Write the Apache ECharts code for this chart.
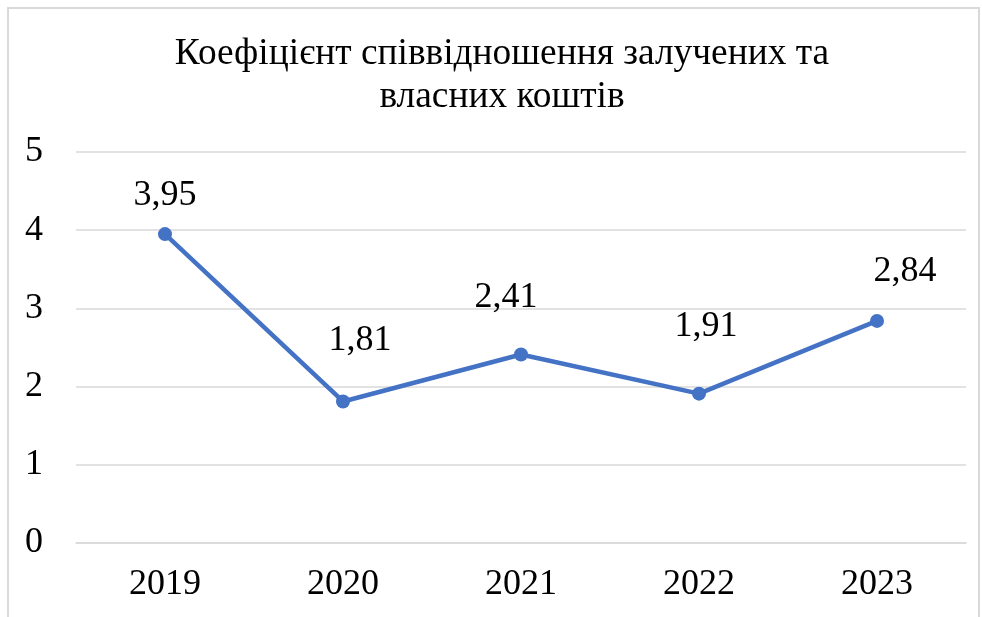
<!DOCTYPE html>
<html>
<head>
<meta charset="utf-8">
<script src="https://cdn.jsdelivr.net/npm/echarts@6/dist/echarts.min.js"></script>
<style>
  html, body { margin: 0; padding: 0; background: #fff; }
  #chart { width: 982px; height: 617px; }
</style>
</head>
<body>
<div id="chart"></div>
<script>
// Ratio of borrowed to own funds, by year
const years = ['2019', '2020', '2021', '2022', '2023'];
const ratio = [3.95, 1.81, 2.41, 1.91, 2.84];
const yTicks = [0, 1, 2, 3, 4, 5];

// Hand-placed value label nudges [dx, dy] relative to each point
const labelNudge = [[0, -39], [17, -61], [-15, -57], [7, -67], [28, -49]];

const FONT = '"Liberation Serif", "Times New Roman", serif';

const chart = echarts.init(document.getElementById('chart'));
chart.setOption({
  animation: false,
  backgroundColor: '#fff',
  title: {
    text: 'Коефіцієнт співвідношення залучених та\nвласних коштів',
    left: 502,
    top: 33,
    padding: 0,
    textAlign: 'center',
    textStyle: {
      fontFamily: FONT,
      fontWeight: 'normal',
      fontSize: 37.4,
      lineHeight: 43,
      color: '#000'
    }
  },
  graphic: [{
    type: 'rect',
    shape: { x: 8, y: 8, width: 971, height: 640 },
    style: { fill: 'none', stroke: '#d9d9d9', lineWidth: 2 },
    silent: true
  }],
  grid: { left: 76, right: 16, top: 152, bottom: 74 },
  xAxis: {
    type: 'category',
    data: years,
    boundaryGap: true,
    axisLine: { show: true, lineStyle: { color: '#d9d9d9', width: 1.5 } },
    axisTick: { show: false },
    axisLabel: {
      margin: 24,
      fontFamily: FONT,
      fontSize: 36,
      color: '#000'
    }
  },
  yAxis: {
    type: 'value',
    min: yTicks[0],
    max: yTicks[yTicks.length - 1],
    interval: 1,
    axisLine: { show: false },
    axisTick: { show: false },
    splitLine: { lineStyle: { color: '#d9d9d9', width: 1.5 } },
    axisLabel: {
      margin: 33,
      fontFamily: FONT,
      fontSize: 36,
      color: '#000'
    }
  },
  series: [{
    type: 'line',
    data: ratio.map((v, i) => ({
      value: v,
      label: { offset: [labelNudge[i][0], labelNudge[i][1]] }
    })),
    symbol: 'circle',
    symbolSize: 14,
    lineStyle: { color: '#4472C4', width: 4.5 },
    itemStyle: { color: '#4472C4' },
    label: {
      show: true,
      position: 'inside',
      fontFamily: FONT,
      fontSize: 36,
      color: '#000',
      formatter: p => String(p.value).replace('.', ',')
    }
  }]
});
</script>
</body>
</html>
